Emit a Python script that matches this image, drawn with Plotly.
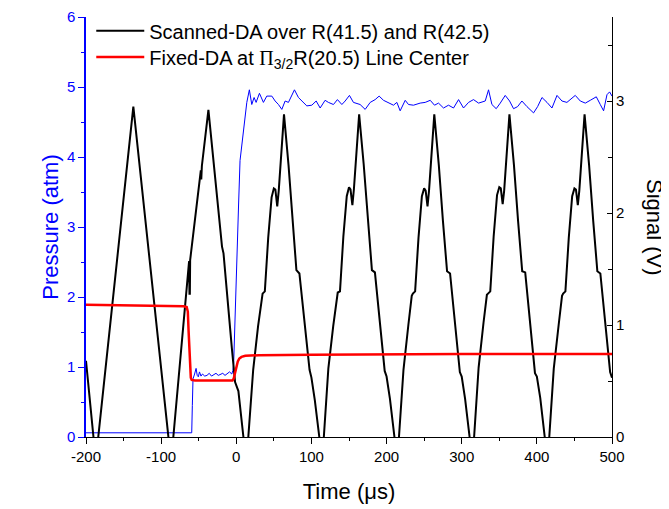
import plotly.graph_objects as go

# pressure (left axis, atm)
pressure_time = [-200, -185, -170, -155, -140, -125, -110, -95, -80, -65, -59.3,
                 -58.5, -57.6, -55.5, -53.5, -52, -50.5, -49, -47, -45, -42, -39, -36,
                 -33, -30, -27, -24, -21, -18, -15, -12, -9, -6, -4.5, -3.5, -2, 0,
                 1.5, 3, 5, 7, 9.5, 11.7, 14, 17.4, 20.6, 23.7, 26.4, 30.8, 36.1, 40.6,
                 47.3, 51.7, 56.1, 60.6, 65, 69.4, 73.9, 77.4, 82.7, 87.2, 93.9, 100.5,
                 106.3, 111.6, 118.2, 122.6, 129.3, 134.6, 140.5, 144.9, 150.6, 155.9,
                 164.8, 171.5, 178.2, 184.8, 190.1, 195.9, 202.5, 209.2, 213.7, 218.1,
                 224.8, 229.2, 235.8, 244.7, 251.4, 258.1, 263.8, 269.1, 275.8, 282.4,
                 289.1, 295.8, 302.4, 309.1, 315.7, 322.4, 331.3, 335.7, 340.2, 345.9,
                 351.3, 357.9, 363.7, 369, 374.4, 380.1, 386.8, 395.6, 401, 406.8, 413.5,
                 420.1, 426.8, 433.4, 440, 451.1, 457.8, 464.5, 471.1, 479.1, 484.4,
                 488.8, 493.3, 496.8, 500]
pressure_atm = [0.06, 0.06, 0.05, 0.06, 0.06, 0.05, 0.06, 0.05, 0.06, 0.06, 0.06,
                0.45, 0.83, 0.90, 0.98, 0.88, 0.86, 0.93, 0.87, 0.90, 0.87, 0.88, 0.91,
                0.87, 0.89, 0.91, 0.88, 0.89, 0.91, 0.88, 0.90, 0.93, 0.90, 0.95, 1.05, 1.5, 2.1,
                2.6, 3.3, 3.95, 4.15, 4.41, 4.56, 4.78, 4.96, 4.75, 4.85, 4.78, 4.91, 4.78, 4.87,
                4.87, 4.80, 4.75, 4.68, 4.80, 4.78, 4.89, 4.96, 4.85, 4.80, 4.73, 4.74,
                4.80, 4.70, 4.81, 4.78, 4.75, 4.82, 4.75, 4.80, 4.88, 4.78,
                4.75, 4.68, 4.78, 4.82, 4.87, 4.81, 4.77, 4.74, 4.78, 4.66,
                4.81, 4.75, 4.74, 4.77, 4.78, 4.81, 4.74, 4.77, 4.70, 4.74,
                4.70, 4.82, 4.70, 4.78, 4.82, 4.77, 4.80, 4.96, 4.75, 4.69,
                4.77, 4.88, 4.80, 4.69, 4.72, 4.80, 4.72, 4.63, 4.72, 4.85, 4.78,
                4.70, 4.88, 4.80, 4.78, 4.88, 4.80, 4.77, 4.81, 4.86, 4.75,
                4.66, 4.89, 4.93, 4.87]

# fixed-DA signal (right axis, V)
fixed_time = [-200, -150, -100, -70, -66, -64.5, -63.5, -62.5, -61.5, -60.5, -59.3,
              -55, -30, -5, -3.5, -2, 0, 2, 4, 7, 12, 30, 100, 200, 300, 500]
fixed_signal = [1.18, 1.175, 1.17, 1.168, 1.16, 1.12, 0.95, 0.75, 0.60, 0.53, 0.51,
                0.505, 0.505, 0.505, 0.52, 0.57, 0.63, 0.675, 0.70, 0.715, 0.725, 0.73,
                0.735, 0.738, 0.74, 0.74]

# scanned-DA signal (right axis, V)
scanned_time = [-200, -187, -137, -87,
                -83.8, -74.8, -68.2, -62.8, -62.3, -61.8, -61.4, -57.1, -52.7, -48, -47.2,
                -46.6, -45.8, -37.1, -30.5, -24, -19, -17, -12.7, -6, -1.6, 0.5, 2.8, 9.5, 13,
                16, 22.5, 29, 33.5, 35, 38, 42.5, 47, 50, 52, 54.5, 56.5, 63.5, 69.5, 75,
                80, 84, 91, 97.5, 100, 104.5, 110.5, 113.5,
                116.5, 122.5, 129, 133.5, 135, 138, 142.5, 147, 150, 152, 154.5, 156.5, 163.5,
                169.5, 175, 180.5, 184.5, 191, 197.5, 200, 204.5, 210.5, 213.5,
                216.5, 222.5, 229, 233.5, 235, 238, 242.5, 247, 250, 252, 254.5, 256.5, 263.5,
                269.5, 275, 280.5, 284.5, 291, 297.5, 300, 304.5, 310.5, 313.5,
                316.5, 322.5, 329, 333.5, 335, 338, 342.5, 347, 350, 352, 354.5, 356.5, 363.5,
                369.5, 375, 380.5, 384.5, 391, 397.5, 400, 404.5, 410.5, 413.5,
                416.5, 422.5, 429, 433.5, 435, 438, 442.5, 447, 450, 452, 454.5, 456.5, 463.5,
                469.5, 475, 480.5, 484.5, 491, 497.5, 500]
scanned_signal = [0.68, -0.21, 2.95, -0.21,
                  0.0, 0.66, 1.16, 1.57, 1.28, 1.28, 1.58, 1.84, 2.08, 2.34, 2.38,
                  2.30, 2.42, 2.92, 2.47, 2.02, 1.70, 1.64, 1.28, 0.80, 0.49, 0.45, 0.41, 0.0, -0.2,
                  0.0, 0.60, 0.99, 1.25, 1.28, 1.30, 1.78, 2.14, 2.22, 2.21, 2.06, 2.20, 2.88, 2.43, 1.93,
                  1.49, 1.46, 1.04, 0.60, 0.53, 0.33, 0.0, -0.18,
                  0.0, 0.61, 0.99, 1.26, 1.29, 1.30, 1.79, 2.15, 2.23, 2.21, 2.07, 2.21, 2.88,
                  2.44, 1.93, 1.49, 1.47, 1.04, 0.59, 0.54, 0.34, 0.0, -0.18,
                  0.0, 0.60, 1.00, 1.26, 1.28, 1.30, 1.78, 2.15, 2.22, 2.20, 2.06, 2.20, 2.88,
                  2.43, 1.93, 1.48, 1.46, 1.04, 0.58, 0.54, 0.34, 0.0, -0.18,
                  0.0, 0.62, 1.02, 1.27, 1.28, 1.30, 1.79, 2.16, 2.23, 2.22, 2.08, 2.20, 2.88,
                  2.43, 1.93, 1.48, 1.47, 1.04, 0.57, 0.54, 0.35, 0.0, -0.18,
                  0.0, 0.61, 1.00, 1.26, 1.28, 1.30, 1.78, 2.15, 2.22, 2.21, 2.07, 2.20, 2.88,
                  2.43, 1.93, 1.48, 1.46, 1.04, 0.58, 0.53]

x_ticks = [-200, -100, 0, 100, 200, 300, 400, 500]
x_tick_labels = ["-200", "-100", "0", "100", "200", "300", "400", "500"]

BLUE = "#0000ff"
FONT = "Arial, 'Liberation Sans', sans-serif"

fig = go.Figure()
fig.add_trace(go.Scatter(x=pressure_time, y=pressure_atm, mode="lines",
                         line=dict(color=BLUE, width=1), showlegend=False, yaxis="y"))
fig.add_trace(go.Scatter(x=scanned_time, y=scanned_signal, mode="lines",
                         line=dict(color="black", width=2),
                         name="Scanned-DA over R(41.5) and R(42.5)",
                         legend="legend", yaxis="y2"))
fig.add_trace(go.Scatter(x=fixed_time, y=fixed_signal, mode="lines",
                         line=dict(color="#ff0000", width=2.5),
                         name="Fixed-DA at <span style=\"font-family:'Liberation Serif'\">Π</span>"
                              "<sub>3/2</sub>R(20.5) Line Center",
                         legend="legend2", yaxis="y2"))

legend_style = dict(x=0.01, xanchor="left", yanchor="middle",
                    bgcolor="rgba(0,0,0,0)", font=dict(size=20), itemwidth=48)

# page body has an 8px margin, so the figure is shifted by that amount
fig.update_layout(
    width=661, height=501,
    margin=dict(l=78, r=57, t=9, b=72, autoexpand=False),
    paper_bgcolor="white", plot_bgcolor="white",
    font=dict(family=FONT, size=15, color="black"),
    showlegend=True,
    legend=dict(y=0.967, **legend_style),
    legend2=dict(y=0.905, **legend_style),
    xaxis=dict(range=[-200, 500], tickvals=x_ticks, ticktext=x_tick_labels,
               automargin=False, ticklabeloverflow="allow",
               showgrid=False, zeroline=False, showline=True, linecolor="black",
               linewidth=1, ticks="outside", ticklen=6, tickcolor="black",
               minor=dict(dtick=50, ticks="outside", ticklen=3, tickcolor="black"),
               title=dict(text="Time (μs)", font=dict(size=22), standoff=19)),
    yaxis=dict(range=[0, 6], dtick=1, showgrid=False, zeroline=False, automargin=False,
               ticklabeloverflow="allow",
               showline=True, linecolor=BLUE, linewidth=1.5,
               ticks="outside", ticklen=6, tickcolor=BLUE,
               tickfont=dict(color=BLUE),
               minor=dict(dtick=0.5, ticks="outside", ticklen=3, tickcolor=BLUE),
               title=dict(text="Pressure (atm)", font=dict(size=22, color=BLUE),
                          standoff=2)),
    yaxis2=dict(range=[0, 3.75], dtick=1, overlaying="y", side="right", automargin=False,
                ticklabeloverflow="allow",
                showgrid=False, zeroline=False, showline=True, linecolor="black",
                linewidth=1, ticks="inside", ticklen=5, tickcolor="black",
                minor=dict(dtick=0.5, ticks="inside", ticklen=4, tickcolor="black")),
    annotations=[dict(text="Signal (V)", xref="paper", yref="paper", x=1, y=0.5,
                      xanchor="center", yanchor="middle",
                      xshift=43, showarrow=False, textangle=90,
                      font=dict(size=22, color="black"))],
)

fig.write_html("out.html")
